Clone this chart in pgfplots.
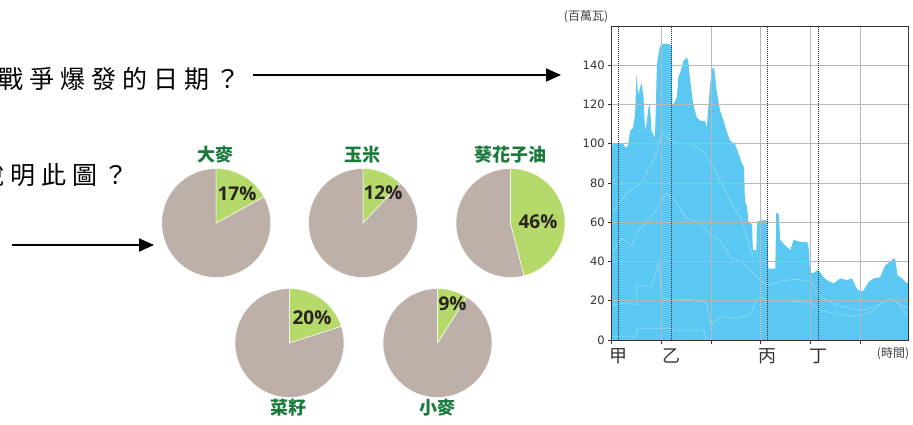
\documentclass[border=0pt]{standalone}
\usepackage{pgfplots}
\pgfplotsset{compat=1.18}
\usepackage{fontspec}
\usetikzlibrary{arrows.meta}
\setmainfont{DejaVu Sans}
\newfontfamily\cjk{Noto Sans CJK TC}
\newfontfamily\cjkq[LetterSpace=24]{Noto Sans CJK TC}
\newfontfamily\pctfont{Open Sans}
\definecolor{areablue}{RGB}{90,200,242}
\definecolor{faint}{RGB}{150,218,246}
\definecolor{piegreen}{RGB}{181,217,106}
\definecolor{piegray}{RGB}{188,176,168}
\definecolor{titlegreen}{RGB}{26,122,60}
\definecolor{pcttext}{RGB}{40,35,30}

% pie: centre x, centre y (pt), percentage
\newcommand{\pie}[3]{%
\begin{axis}[at={(#1pt,#2pt)}, anchor=center, hide axis, scale only axis,
  width=109pt, height=109pt, xmin=-1, xmax=1, ymin=-1, ymax=1, clip=false]
  \fill[piegray, draw=white, line width=0.5pt] (axis cs:0,0) -- (axis cs:0,1)
     arc[start angle=90, delta angle={360-3.6*#3}, radius=54.5pt] -- cycle;
  \fill[piegreen, draw=white, line width=0.5pt] (axis cs:0,0) -- (axis cs:0,1)
     arc[start angle=90, delta angle={-3.6*#3}, radius=54.5pt] -- cycle;
\end{axis}}

\begin{document}
\begin{tikzpicture}[x=1pt,y=1pt]
\useasboundingbox (0,0) rectangle (913,424);
\clip (0,0) rectangle (913,424);

% questions and arrows
\node[anchor=base west, inner sep=0pt, font=\cjkq\fontsize{25}{25}\selectfont] at (-1.5,335) {戰爭爆發的日期？};
\node[anchor=base west, inner sep=0pt, font=\cjkq\fontsize{25}{25}\selectfont] at (-21,240) {說明此圖？};
\draw[line width=1.8pt, -{Triangle[length=15pt,width=13pt]}] (253,349) -- (561,349);
\draw[line width=1.8pt, -{Triangle[length=15pt,width=13pt]}] (12,179) -- (154,179);

% pies
\pie{216.2}{201}{17}
\pie{363}{201}{12}
\pie{510.5}{201}{46}
\pie{289.5}{81}{20}
\pie{437.5}{81}{9}

\begin{scope}[every node/.style={inner sep=0pt}]
\node[font=\pctfont\bfseries\fontsize{19}{19}\selectfont, text=pcttext] at (237,230.5) {17\%};
\node[font=\pctfont\bfseries\fontsize{19}{19}\selectfont, text=pcttext] at (383,231) {12\%};
\node[font=\pctfont\bfseries\fontsize{19}{19}\selectfont, text=pcttext] at (538,202) {46\%};
\node[font=\pctfont\bfseries\fontsize{19}{19}\selectfont, text=pcttext] at (312,106) {20\%};
\node[font=\pctfont\bfseries\fontsize{19}{19}\selectfont, text=pcttext] at (452.5,120.5) {9\%};
\node[font=\cjk\bfseries\fontsize{18}{18}\selectfont, text=titlegreen] at (215,269) {大麥};
\node[font=\cjk\bfseries\fontsize{18}{18}\selectfont, text=titlegreen] at (362.5,269) {玉米};
\node[font=\cjk\bfseries\fontsize{18}{18}\selectfont, text=titlegreen] at (510,269) {葵花子油};
\node[font=\cjk\bfseries\fontsize{18}{18}\selectfont, text=titlegreen] at (288,16) {菜籽};
\node[font=\cjk\bfseries\fontsize{18}{18}\selectfont, text=titlegreen] at (437,16) {小麥};
\end{scope}

% main chart
\begin{axis}[at={(611.7pt,84pt)}, anchor=south west, scale only axis,
  width=296.3pt, height=314pt,
  xmin=0, xmax=5.96, ymin=0, ymax=160,
  axis on top,
  axis line style={draw=black!80, line width=0.8pt},
  xtick={0,1,2,3,4,5}, xticklabels={},
  ytick={0,20,40,60,80,100,120,140},
  grid=major, major grid style={draw=black!28, line width=1pt},
  tick pos=left, tick align=outside, major tick length=3.5pt,
  tick style={draw=black!80, line width=0.8pt},
  /pgf/number format/assume math mode=true,
  yticklabel style={font=\fontsize{11.5}{12}\selectfont, text=black!80},
  extra x ticks={0.127,1.21,3.13,4.15},
  extra x tick labels={甲,乙,丙,丁},
  extra x tick style={major tick length=0pt,
     major grid style={draw=black!85, densely dotted, line width=0.8pt},
     xticklabel style={font=\cjk\fontsize{18}{18}\selectfont, text=black!80, yshift=-5pt}},
]
\addplot[fill=areablue, draw=none] coordinates {
(0,97) (0.02,100) (0.10,100) (0.23,100) (0.28,98) (0.33,99) (0.37,106.6) (0.43,108)
(0.47,115) (0.50,136) (0.53,125) (0.57,128.6) (0.60,131) (0.64,123.6) (0.67,106.6)
(0.70,110) (0.74,118.5) (0.77,120) (0.80,106.6) (0.87,103) (0.91,140.4) (0.94,145.5)
(0.97,149.7) (1.05,151) (1.17,150.6) (1.21,150) (1.22,120) (1.24,120) (1.31,123.6)
(1.34,133.7) (1.41,138.8) (1.44,142.2) (1.51,143.9) (1.54,142.2) (1.58,132) (1.64,120)
(1.71,113.4) (1.78,111.7) (1.88,111.7) (1.91,108) (1.98,130) (2.01,138) (2.06,138.8)
(2.11,127) (2.18,116.9) (2.25,111.7) (2.31,106.6) (2.38,101.5) (2.48,99.8) (2.55,95)
(2.62,90) (2.66,88)
(2.68,71) (2.72,68) (2.75,60) (2.82,59) (2.84,45.8) (2.91,45.8) (2.92,60)
(2.99,61) (3.13,61) (3.15,36.4) (3.29,36.4) (3.31,65) (3.36,64) (3.39,51)
(3.46,49) (3.59,45.8) (3.66,51) (3.79,50) (3.93,50) (3.96,47.5) (3.99,34.7)
(4.06,34) (4.13,35.6) (4.19,34.7) (4.26,32) (4.33,30.5) (4.46,28.8) (4.60,31.4)
(4.73,30.5) (4.83,31.4) (4.93,26.3) (5.00,24.6) (5.07,25.4) (5.17,29.7) (5.27,31.4)
(5.40,32) (5.50,38) (5.60,40) (5.67,41.5) (5.70,41.5) (5.75,33) (5.84,31.4)
(5.94,28.8) (5.97,29.7)
} \closedcycle;
\addplot[draw=faint, line width=0.6pt] coordinates {
(0.03,2) (0.5,2) (0.5,6) (1.2,6) (1.25,5) (1.85,5) (1.9,0)};
\addplot[draw=faint, line width=0.6pt] coordinates {
(0.03,18) (0.3,19) (0.5,18) (0.5,28) (0.8,27) (0.95,40) (1.0,22) (1.2,20) (1.5,21)
(1.9,19) (2.0,8) (2.2,12) (2.5,11) (2.8,13) (2.9,20) (3.0,22) (3.15,20) (3.5,20)
(3.99,19) (4.2,15) (4.6,13) (4.9,12) (5.2,14) (5.5,20) (5.7,20) (5.97,12)};
\addplot[draw=faint, line width=0.6pt] coordinates {
(0.03,45) (0.2,52) (0.4,48) (0.5,55) (0.7,60) (0.95,68) (1.1,75) (1.3,70) (1.5,62)
(1.75,60) (1.95,55) (2.2,50) (2.4,42) (2.6,40) (2.8,35) (3.0,30) (3.15,28) (3.4,30)
(3.7,31) (3.99,30) (4.2,22) (4.5,18) (4.8,16) (5.0,15) (5.3,17) (5.6,21) (5.97,16)};
\addplot[draw=faint, line width=0.6pt] coordinates {
(0.03,65) (0.3,75) (0.6,80) (0.9,95) (1.0,105) (1.3,100) (1.6,100) (1.9,95)
(2.1,85) (2.4,70) (2.6,62) (2.75,50) (2.85,42)};
\end{axis}

\node[font=\cjk\fontsize{12}{12}\selectfont, text=black!75] at (586,407) {(百萬瓦)};
\node[font=\cjk\fontsize{12}{12}\selectfont, text=black!75] at (893,70) {(時間)};
\end{tikzpicture}
\end{document}
